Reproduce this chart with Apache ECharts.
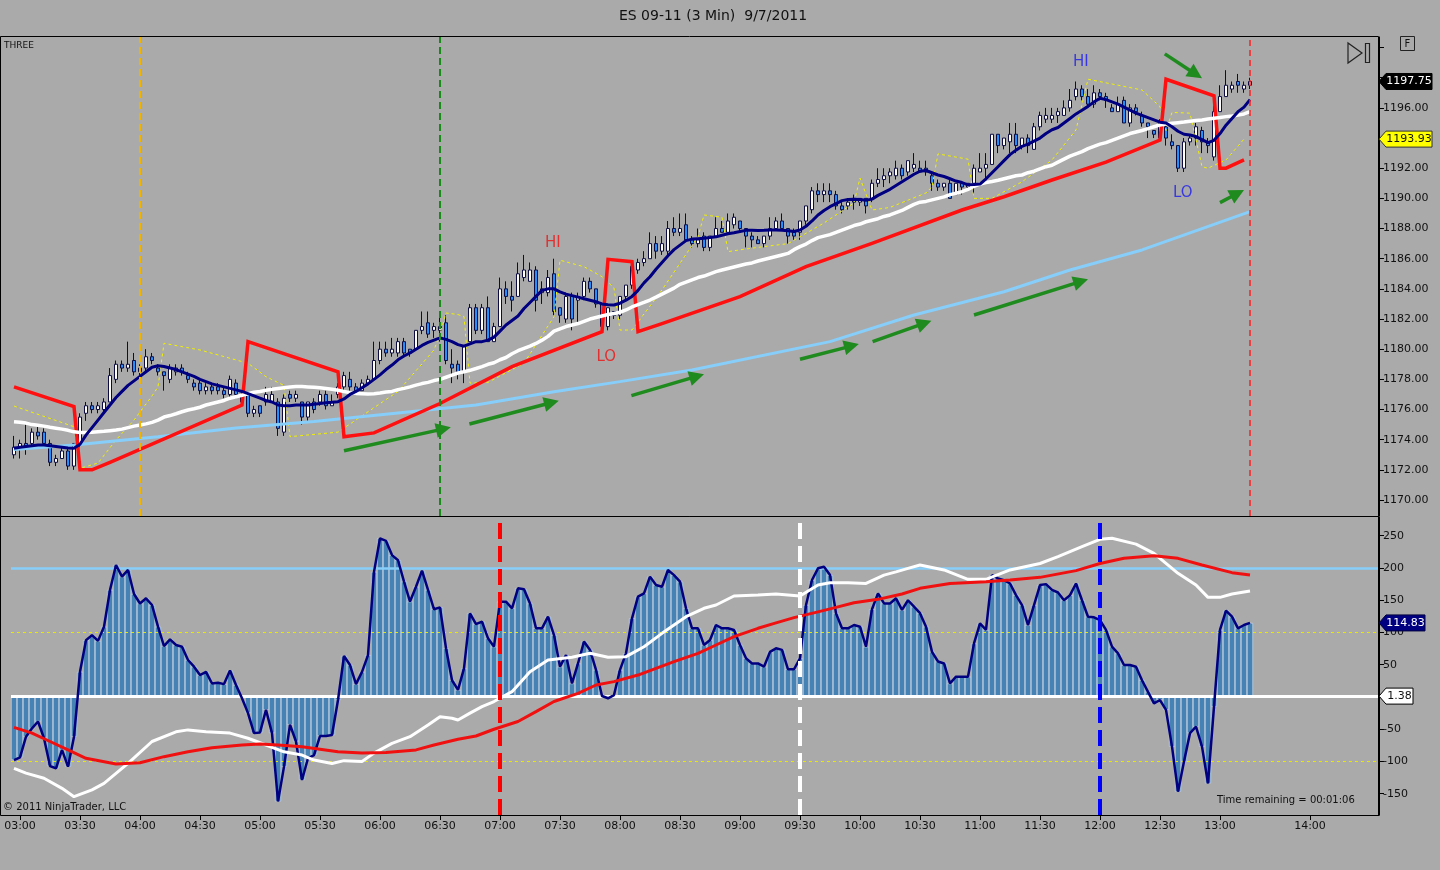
<!DOCTYPE html>
<html><head><meta charset="utf-8">
<script src="https://cdn.jsdelivr.net/npm/echarts@6/dist/echarts.min.js"></script>
<style>html,body{margin:0;padding:0;background:#aaaaaa;}#c{width:1440px;height:870px;}</style>
</head><body><div id="c"></div>
<script>
// ---------- DATA ----------
const firstBarTime = '02:57';   // 3-minute bars
const futureSlots = ['','','','','','','','','','14:00','','','','','','','','','','',''];
const timeLabels = ['03:00','03:30','04:00','04:30','05:00','05:30','06:00','06:30','07:00','07:30','08:00','08:30','09:00','09:30','10:00','10:30','11:00','11:30','12:00','12:30','13:00','14:00'];

// [open, close, low, high]
const candles = [
[1173.0,1173.5,1172.75,1174.25],[1173.5,1173.75,1172.75,1174.0],[1173.75,1173.5,1173.0,1175.0],[1173.75,1174.5,1173.5,1174.75],[1174.5,1174.25,1174.0,1175.0],
[1174.5,1173.75,1173.5,1174.75],[1173.75,1172.5,1172.25,1174.0],[1172.5,1172.75,1172.25,1173.0],[1172.75,1173.25,1172.75,1173.5],[1173.25,1172.25,1172.0,1173.5],
[1172.25,1173.75,1172.0,1173.75],[1173.75,1175.5,1173.5,1175.75],[1175.75,1176.25,1175.25,1176.5],[1176.25,1176.0,1175.75,1176.5],[1176.0,1176.25,1175.75,1176.5],
[1176.0,1176.5,1175.75,1176.75],[1176.5,1178.25,1176.5,1178.75],[1178.0,1179.0,1177.75,1179.25],[1179.0,1178.75,1178.5,1179.25],[1178.75,1179.0,1178.5,1180.5],
[1179.25,1178.5,1178.25,1179.75],[1178.5,1178.75,1178.25,1179.0],[1178.75,1179.5,1178.5,1180.0],[1179.5,1179.25,1179.0,1179.75],[1178.75,1178.5,1178.25,1179.0],
[1178.5,1178.25,1177.25,1178.5],[1178.0,1178.75,1177.75,1179.0],[1178.5,1178.75,1178.25,1179.0],[1178.75,1178.5,1178.25,1179.0],[1178.25,1178.0,1177.75,1178.5],
[1177.75,1177.5,1177.25,1178.0],[1177.75,1177.25,1177.0,1178.0],[1177.25,1177.5,1177.0,1177.75],[1177.5,1177.25,1177.0,1177.75],[1177.5,1177.25,1177.0,1177.75],
[1177.25,1177.0,1176.75,1177.5],[1177.0,1178.0,1176.75,1178.25],[1177.75,1177.0,1176.75,1178.0],[1177.0,1176.5,1176.25,1177.25],[1177.0,1175.75,1175.5,1177.0],
[1175.75,1176.0,1175.5,1176.25],[1176.25,1175.75,1175.5,1176.25],[1176.5,1177.0,1176.25,1177.5],[1176.5,1177.0,1176.5,1177.5],[1176.5,1174.75,1174.25,1176.75],
[1174.5,1176.75,1174.25,1177.0],[1177.0,1176.75,1176.5,1177.25],[1176.75,1177.0,1176.5,1177.25],[1176.5,1175.5,1175.0,1176.5],[1175.5,1176.5,1175.25,1176.5],
[1176.5,1176.0,1175.75,1176.75],[1176.5,1177.0,1176.25,1177.25],[1177.0,1176.25,1176.0,1177.25],[1176.25,1176.5,1176.25,1177.0],[1177.0,1177.5,1176.75,1177.75],
[1177.5,1178.25,1177.25,1178.5],[1178.0,1177.5,1177.25,1178.5],[1177.5,1177.25,1177.0,1177.75],[1177.25,1177.75,1177.25,1178.0],[1177.75,1178.0,1177.75,1178.25],
[1178.0,1179.25,1178.0,1180.5],[1179.25,1180.0,1179.0,1180.5],[1180.0,1179.75,1179.5,1180.5],[1179.75,1180.0,1179.5,1180.75],[1179.75,1180.5,1179.5,1180.75],
[1180.5,1179.75,1179.5,1180.75],[1180.0,1179.75,1179.5,1180.0],[1180.0,1181.25,1180.0,1181.25],[1181.25,1181.5,1181.0,1182.5],[1181.75,1181.0,1180.75,1182.5],
[1181.25,1181.5,1180.75,1181.75],[1181.25,1181.5,1180.5,1182.25],[1181.75,1179.25,1179.0,1182.25],[1179.0,1178.75,1177.75,1180.0],[1179.0,1178.5,1178.0,1179.25],
[1178.5,1180.25,1177.75,1180.25],[1180.5,1182.75,1180.5,1183.0],[1182.75,1181.25,1181.0,1183.0],[1181.25,1182.75,1181.0,1183.0],[1182.75,1180.5,1180.5,1183.5],
[1180.5,1181.5,1180.5,1181.75],[1181.5,1184.0,1181.5,1184.75],[1184.0,1183.5,1183.0,1184.5],[1183.5,1183.25,1182.5,1184.5],[1183.5,1185.0,1183.5,1185.75],
[1184.75,1185.25,1184.5,1186.25],[1184.5,1185.25,1184.5,1185.75],[1185.25,1183.25,1182.5,1185.5],[1183.75,1184.0,1183.0,1184.5],[1183.75,1184.75,1183.5,1185.25],
[1185.0,1182.5,1182.25,1186.0],[1182.75,1182.25,1181.75,1182.75],[1182.0,1183.5,1181.75,1183.75],[1183.5,1182.0,1181.25,1183.75],[1183.25,1183.5,1181.75,1183.75],
[1183.5,1184.5,1183.25,1184.75],[1184.5,1184.0,1183.75,1184.75],[1184.0,1183.0,1182.75,1184.0],[1183.0,1181.5,1181.25,1183.0],[1181.5,1182.75,1181.25,1182.75],
[1182.5,1182.25,1182.0,1182.5],[1182.25,1183.5,1182.0,1183.5],[1183.5,1184.25,1183.25,1184.25],[1184.25,1185.5,1184.0,1185.5],[1185.25,1185.75,1185.0,1186.0],
[1185.75,1186.0,1185.5,1186.5],[1186.0,1187.0,1186.0,1187.75],[1187.0,1186.5,1186.0,1187.5],[1186.5,1187.0,1186.25,1187.5],[1186.5,1188.0,1186.25,1188.5],
[1188.0,1187.75,1187.5,1188.75],[1187.75,1188.0,1187.5,1189.0],[1188.25,1187.25,1187.25,1189.0],[1187.25,1187.0,1186.75,1187.5],[1187.0,1187.25,1186.75,1188.0],
[1187.5,1186.75,1186.5,1187.75],[1186.75,1187.5,1186.5,1187.5],[1187.5,1188.0,1187.5,1188.75],[1188.0,1187.75,1187.75,1188.5],[1187.75,1188.5,1187.75,1189.0],
[1188.25,1188.75,1188.0,1189.0],[1188.5,1188.0,1187.75,1188.5],[1188.0,1187.5,1186.75,1188.0],[1187.5,1187.25,1186.75,1187.75],[1187.25,1187.0,1187.0,1187.5],
[1187.0,1187.5,1186.75,1187.5],[1187.5,1188.0,1187.25,1188.75],[1188.0,1188.5,1188.0,1188.75],[1188.5,1188.0,1188.0,1189.0],[1188.0,1187.5,1187.0,1188.0],
[1187.75,1187.5,1187.25,1188.0],[1187.75,1188.5,1187.25,1188.5],[1188.5,1189.5,1188.25,1189.5],[1189.25,1190.5,1189.0,1190.75],[1190.5,1190.25,1189.75,1191.0],
[1190.25,1190.5,1189.75,1191.0],[1190.5,1190.25,1189.75,1191.0],[1190.25,1189.5,1189.25,1190.5],[1189.5,1189.25,1189.0,1189.75],[1189.5,1189.75,1189.25,1190.0],
[1190.0,1189.75,1189.25,1190.25],[1189.75,1190.0,1189.5,1190.0],[1190.0,1189.5,1189.0,1190.0],[1190.0,1191.0,1189.75,1191.25],[1191.0,1191.25,1190.75,1192.0],
[1191.25,1191.5,1190.75,1192.0],[1191.5,1191.75,1191.0,1192.0],[1191.5,1192.0,1191.25,1192.5],[1192.0,1191.5,1191.25,1192.25],[1191.75,1192.5,1191.5,1192.5],
[1192.0,1192.25,1191.75,1193.0],[1192.0,1191.75,1191.75,1192.5],[1192.0,1191.75,1191.5,1192.5],[1191.5,1191.0,1190.5,1191.75],[1191.0,1190.75,1190.5,1191.25],
[1190.75,1191.0,1190.5,1191.0],[1191.0,1190.0,1190.0,1191.25],[1190.25,1191.0,1190.25,1191.0],[1191.0,1190.75,1190.25,1191.0],[1190.75,1191.0,1190.5,1191.0],
[1191.0,1192.0,1190.25,1192.25],[1191.75,1192.0,1191.75,1193.0],[1192.0,1192.25,1191.0,1193.0],[1192.25,1194.25,1192.25,1194.25],[1194.25,1193.5,1193.0,1194.25],
[1193.5,1194.0,1193.25,1194.0],[1193.75,1194.25,1193.0,1195.0],[1194.25,1193.5,1193.0,1195.0],[1193.5,1194.0,1193.25,1194.0],[1194.0,1193.5,1193.0,1194.25],
[1193.25,1194.75,1193.25,1195.0],[1194.75,1195.5,1194.5,1195.75],[1195.25,1195.5,1195.0,1196.0],[1195.25,1195.5,1195.0,1196.0],[1195.5,1195.75,1195.0,1196.0],
[1195.5,1196.0,1195.5,1196.5],[1196.0,1196.5,1195.75,1197.25],[1196.75,1197.25,1196.5,1197.75],[1197.25,1196.75,1196.5,1197.5],[1196.75,1196.25,1196.0,1197.25],
[1196.25,1197.0,1196.0,1197.5],[1197.0,1196.75,1196.5,1197.25],[1196.75,1196.5,1196.0,1197.0],[1196.0,1195.75,1195.75,1196.25],[1195.75,1196.25,1195.75,1196.75],
[1196.5,1195.0,1195.0,1196.75],[1195.0,1196.0,1194.75,1196.25],[1196.0,1195.75,1195.5,1196.25],[1195.5,1195.0,1194.75,1195.75],[1195.0,1194.75,1194.0,1195.0],
[1194.5,1194.25,1194.0,1194.5],[1194.0,1195.0,1194.0,1195.25],[1194.75,1194.0,1193.5,1195.0],[1193.75,1193.5,1193.25,1194.25],[1193.5,1192.0,1191.75,1193.5],
[1192.0,1193.75,1191.75,1194.0],[1193.75,1194.0,1193.5,1194.25],[1194.0,1194.75,1193.5,1195.0],[1194.5,1193.75,1193.0,1194.75],[1193.75,1193.5,1193.0,1194.0],
[1192.75,1195.75,1192.5,1196.5],[1195.75,1196.75,1195.75,1197.5],[1196.75,1197.5,1196.75,1198.5],[1197.25,1197.5,1197.0,1197.75],[1197.75,1197.5,1197.0,1198.25],
[1197.25,1197.5,1197.0,1197.75],[1197.5,1197.75,1197.25,1198.0]
];

// navy fast average, one value per bar
const navyLine = [
1173.43,1173.5,1173.55,1173.6,1173.65,1173.65,1173.6,1173.55,1173.5,1173.45,1173.43,
1173.7,1174.3,1174.8,1175.3,1175.8,1176.3,1176.8,1177.2,1177.6,1177.9,
1178.2,1178.5,1178.8,1178.9,1178.85,1178.75,1178.65,1178.5,1178.35,1178.2,
1178.0,1177.85,1177.7,1177.6,1177.5,1177.4,1177.3,1177.2,1177.05,1176.9,
1176.75,1176.6,1176.5,1176.3,1176.25,1176.25,1176.3,
1176.3,1176.3,1176.35,1176.4,1176.45,1176.48,1176.52,1176.7,1177.0,1177.2,1177.45,1177.7,
1178.0,1178.3,1178.65,1178.95,1179.3,1179.55,1179.75,1180.0,1180.25,1180.45,1180.6,1180.75,
1180.65,1180.5,1180.3,1180.2,1180.35,1180.5,1180.5,1180.6,1180.8,1181.2,1181.6,1181.9,1182.2,1182.7,1183.1,1183.5,1183.9,1184.0,
1184.0,1183.8,1183.65,1183.55,1183.45,1183.35,1183.25,1183.15,1183.0,1182.95,1182.93,1183.05,
1183.25,1183.5,1183.9,1184.4,1184.8,1185.3,1185.75,1186.2,1186.6,1186.9,1187.2,1187.3,
1187.33,1187.36,1187.4,1187.45,1187.55,1187.65,1187.72,1187.8,1187.88,1187.88,1187.87,1187.88,1187.9,1187.9,1187.88,1187.85,
1187.8,1187.9,1188.15,1188.5,1188.9,1189.2,1189.45,1189.65,1189.85,1189.92,1189.94,1189.93,1189.88,
1189.95,1190.2,1190.4,1190.6,1190.85,1191.1,1191.35,1191.6,1191.8,1191.85,1191.7,1191.55,1191.45,1191.3,1191.15,1191.05,
1190.9,1190.92,1190.95,1191.3,1191.7,1192.1,1192.5,1192.9,1193.2,1193.45,1193.6,1193.8,1194.0,1194.3,
1194.55,1194.7,1195.0,1195.3,1195.6,1195.85,1196.1,1196.4,1196.64,1196.55,1196.4,1196.25,1196.05,1195.85,1195.65,1195.5,1195.35,
1195.2,1195.05,1195.0,1194.75,1194.45,1194.25,1194.2,1194.1,1193.9,1193.7,1193.85,1194.3,1194.85,1195.3,1195.75,1196.05,1196.55
];

// white average, one value per bar
const whiteLine = [
1175.19,1175.15,1175.1,1175.0,1174.95,1174.9,1174.82,1174.76,1174.7,1174.62,1174.52,
1174.47,1174.47,1174.5,1174.53,1174.56,1174.6,1174.64,1174.7,1174.8,1174.9,
1174.97,1175.05,1175.15,1175.3,1175.5,1175.6,1175.72,1175.85,1175.97,1176.05,
1176.15,1176.3,1176.4,1176.5,1176.6,1176.75,1176.85,1176.95,1177.05,1177.15,
1177.2,1177.28,1177.35,1177.4,1177.45,1177.5,1177.52,
1177.52,1177.5,1177.48,1177.45,1177.4,1177.35,1177.28,1177.2,1177.12,1177.07,1177.05,1177.03,
1177.05,1177.1,1177.16,1177.2,1177.32,1177.4,1177.5,1177.62,1177.72,1177.8,1177.92,1178.0,
1178.14,1178.28,1178.42,1178.5,1178.6,1178.72,1178.85,1179.0,1179.1,1179.3,1179.45,1179.7,1179.9,1180.05,1180.2,1180.38,1180.6,1180.85,
1181.2,1181.35,1181.5,1181.6,1181.7,1181.85,1182.0,1182.1,1182.2,1182.3,1182.37,1182.45,
1182.6,1182.8,1182.95,1183.1,1183.26,1183.45,1183.65,1183.85,1184.05,1184.3,1184.45,1184.6,
1184.75,1184.85,1185.0,1185.14,1185.25,1185.35,1185.45,1185.55,1185.65,1185.72,1185.85,1185.95,1186.05,1186.15,1186.25,1186.35,
1186.6,1186.8,1186.97,1187.2,1187.4,1187.5,1187.6,1187.75,1187.9,1188.05,1188.2,1188.3,1188.45,
1188.55,1188.65,1188.8,1188.9,1189.05,1189.2,1189.4,1189.6,1189.75,1189.8,1189.9,1190.0,1190.1,1190.25,1190.34,1190.45,
1190.6,1190.8,1190.95,1191.05,1191.12,1191.2,1191.3,1191.4,1191.5,1191.55,1191.7,1191.8,1191.95,1192.1,
1192.2,1192.4,1192.6,1192.8,1192.95,1193.1,1193.3,1193.45,1193.6,1193.7,1193.85,1194.0,1194.15,1194.3,1194.4,1194.5,1194.62,
1194.75,1194.87,1194.93,1194.98,1195.02,1195.06,1195.12,1195.16,1195.2,1195.26,1195.31,1195.36,1195.42,1195.46,1195.52,1195.6,1195.75
];

// [bar, value] corner points of the stepped red line
const redLine = [[0,1177.5],[10,1176.2],[11,1172.0],[13,1172.0],[16,1172.5],[38,1176.3],[39,1180.5],[54,1178.5],[55,1174.2],[60,1174.45],[71,1176.4],[83,1178.84],[98,1181.16],[99,1185.96],[103,1185.8],[104,1181.16],[108,1181.7],[121,1183.48],[132,1185.47],[143,1187.02],[158,1189.23],[165,1190.11],[173,1191.22],[182,1192.4],[191,1193.87],[192,1197.9],[200,1196.8],[201,1192.0],[202,1192.0],[205,1192.55]];

// [bar, value] light blue slow average
const blueLine = [[0,1173.35],[10,1173.65],[24,1174.2],[37,1174.77],[50,1175.2],[64,1175.77],[77,1176.3],[90,1177.18],[101,1177.85],[113,1178.62],[136,1180.5],[150,1182.27],[165,1183.81],[176,1185.25],[188,1186.58],[206,1189.12]];

// [bar, value] yellow dotted envelope
const yellowLine = [[0,1176.23],[10,1174.86],[11,1172.1],[14,1172.45],[17,1173.98],[20,1175.3],[23,1176.9],[24,1177.5],[25,1180.39],[31,1179.95],[39,1179.07],[42,1178.18],[45,1177.6],[46,1174.2],[54,1174.5],[64,1177.2],[70,1179.95],[71,1181.0],[72,1182.4],[74,1182.3],[75,1182.16],[76,1177.75],[79,1177.8],[85,1179.07],[90,1182.16],[91,1185.9],[95,1185.47],[98,1184.81],[100,1184.06],[101,1181.27],[103,1181.27],[108,1183.93],[111,1185.7],[114,1187.46],[115,1188.9],[118,1188.75],[119,1186.47],[123,1186.7],[129,1187.0],[135,1188.37],[140,1189.7],[141,1191.35],[143,1189.23],[146,1189.4],[152,1190.36],[153,1190.76],[154,1192.95],[159,1192.6],[160,1190.0],[163,1190.0],[168,1191.1],[173,1192.55],[177,1194.54],[179,1197.9],[188,1197.19],[191,1196.08],[192,1194.5],[193,1195.7],[196,1195.65],[198,1192.1],[199,1192.0],[202,1192.55],[205,1193.93]];

// oscillator (histogram + navy line), one value per bar
const cci = [
-97.7,-93.5,-61.5,-48.6,-38,-64,-107,-110.6,-82,-108,
-61.5,39,88,96,87,109,166,204.6,186.6,197,
159.7,145,153,142.6,109,79,89.4,80.6,78,57.4,
47,34,39,21,22,20,41,18.6,-2,-25,
-56,-55,-20,-56,-162,-108,-43,-69,-128.7,-95,
-90,-60.5,-60.5,-59,-4.7,63.6,49.6,20,39,65,
194,246,242,220,212,179,148,171,196,166,
136,139,75.5,26,11,44.4,129.7,113,116.8,91,
78,147.8,147.8,137.5,168.5,167,145,106.5,106.5,124.5,
96,47,65,21,52,86,73,42,1.5,-2,
3,42,67.7,122,155.5,160.7,186.6,173.6,171,197,
189,178.8,137.5,106.5,106.5,80.6,88.4,111.6,106.5,106.5,
104,80.6,60,52,52,47,70,75.5,73,43,
43,60,142.6,181.4,199.5,202,189,129.7,106.5,106.5,
111.6,109,78,136,160.7,145,145,153,135,150,
140,130,109,70,55,52,21,31.5,31.5,31.5,
83,114,104,189,184,181,176,158,142.6,111.6,
142.6,173.6,175,166,162,150,158,176,150,124.5,
123.5,119,104,78,67.7,49.6,49.6,47,26,8,
-10,-4.7,-20,-77,-146.8,-100,-56,-46,-77,-134,
-15,104,134,124.5,106.5,111.6,114.83
];
// [bar, value]
const cciWhite = [[0,-110.6],[2,-118],[5,-126],[8,-141.6],[10,-154.5],[13,-144],[15,-134],[19,-103],[23,-69],[27,-54],[29,-51],[32,-54],[36,-56],[39,-64],[42,-74.4],[45,-85],[48,-90],[50,-97.7],[53,-103],[55,-98.7],[58,-100],[60,-87],[63,-71.8],[66,-61.5],[69,-43.4],[71,-30.5],[73,-33],[74,-35.7],[76,-25],[78,-15],[80,-7],[83,8.3],[86,39],[89,57.4],[93,61.5],[96,67.7],[99,61.5],[102,62.5],[105,78],[108,98.7],[112,124.5],[115,137.5],[117,142.6],[120,156.6],[124,158],[127,159.7],[131,156.6],[134,173.6],[136,177],[139,177],[142,176],[145,189],[147,194],[149,199.5],[151,204.6],[155,197],[159,182.4],[162,182.4],[166,197],[171,207],[174,217.6],[178,233],[181,244.4],[183,246],[187,237],[190,222.7],[194,191.7],[197,173.6],[199,154.5],[201,154.5],[203,159.7],[206,164.3]];
const cciRed = [[0,-47],[3,-56],[6,-69],[9,-82],[12,-95],[17,-104],[21,-102],[25,-92.5],[29,-85],[33,-78.6],[38,-74.4],[41,-72.9],[44,-74.4],[48,-77],[51,-81],[54,-85],[58,-87],[62,-86],[67,-82],[70,-74.4],[74,-65.6],[77,-60.5],[80,-50],[84,-38],[87,-22.7],[90,-7],[94,5.7],[97,18.6],[100,23.8],[104,34],[107,44.4],[110,54.8],[114,67.7],[117,80.6],[120,93.5],[124,106.5],[127,115],[130,123],[134,132],[137,139],[140,146],[144,151.4],[148,159.7],[151,168.5],[156,176],[162,178.8],[166,181.4],[171,185.5],[177,195.9],[181,207],[185,215],[190,219],[194,215],[198,204.6],[203,192.8],[206,189]];
const zeroLineValue = 1.38;

// annotations (bar position, price)
const arrows = [[55.0,1173.27,72.8,1174.82],[75.9,1175.04,90.8,1176.58],[102.9,1176.92,115.0,1178.34],[131.0,1179.33,140.8,1180.34],[143.1,1180.5,152.9,1181.89],[160.0,1182.27,179.0,1184.64],[191.8,1199.58,198.0,1197.96],[201.0,1189.72,205.0,1190.56]];
const notes = [[89.8,1187.04,'HI','#ee1111'],[98.7,1179.48,'LO','#ee1111'],[177.8,1199.05,'HI','#1a1aee'],[194.8,1190.36,'LO','#1a1aee']];
const priceTicks = [1170,1172,1174,1176,1178,1180,1182,1184,1186,1188,1190,1192,1194,1196,1198,1200];
const priceLabels = [1170,1172,1174,1176,1178,1180,1182,1184,1186,1188,1190,1192,1196];
const cciTicks = [-150,-100,-50,0,50,100,150,200,250];
const cciLabels = [-150,-100,-50,50,100,150,200,250];

// ---------- BUILD ----------
function addMin(t, m){const [h,mi]=t.split(':').map(Number);const x=h*60+mi+m;return String(Math.floor(x/60)).padStart(2,'0')+':'+String(x%60).padStart(2,'0');}
const barTimes = candles.map((c,i)=>addMin(firstBarTime, 3*i));
const xCats = barTimes.concat(futureSlots);
const N = xCats.length;
const FONT = 'DejaVu Sans';
const showTime = (i, v) => timeLabels.indexOf(v) >= 0;
const noSym = ['none','none'];

const option = {
  backgroundColor: '#aaaaaa',
  animation: false,
  textStyle: {fontFamily: FONT},
  grid: [
    {left: 11, top: 37, width: 1368, height: 479},
    {left: 11, top: 517, width: 1368, height: 298}
  ],
  xAxis: [
    {type:'category', gridIndex:0, data:xCats, show:false, axisLine:{onZero:false}},
    {type:'category', gridIndex:1, data:xCats,
      axisLine:{show:true, onZero:false, lineStyle:{color:'#000', width:1}},
      axisTick:{show:true, interval:showTime, alignWithLabel:true, length:5, lineStyle:{color:'#000'}},
      axisLabel:{interval:showTime, color:'#111', fontSize:11, fontFamily:FONT, margin:6},
      splitLine:{show:false}},
    {type:'value', gridIndex:0, min:-0.5, max:N-0.5, show:false, axisLine:{onZero:false}}
  ],
  yAxis: [
    {type:'value', gridIndex:0, position:'right', min:1168.94, max:1200.70, scale:true,
      axisLine:{show:true, onZero:false, lineStyle:{color:'#000'}},
      axisTick:{show:true, length:5, customValues:priceTicks, lineStyle:{color:'#000'}},
      axisLabel:{customValues:priceLabels, formatter:v=>Number(v).toFixed(2), color:'#111', fontSize:11, fontFamily:FONT, margin:4},
      splitLine:{show:false}},
    {type:'value', gridIndex:1, position:'right', min:-182.95, max:279.07,
      axisLine:{show:true, onZero:false, lineStyle:{color:'#000'}},
      axisTick:{show:true, length:5, customValues:cciTicks, lineStyle:{color:'#000'}},
      axisLabel:{customValues:cciLabels, color:'#111', fontSize:11, fontFamily:FONT, margin:4},
      splitLine:{show:false}}
  ],
  series: [
    {type:'candlestick', xAxisIndex:0, yAxisIndex:0, data:candles, barWidth:4, z:2,
      itemStyle:{color:'#ffffff', color0:'#1e90ff', borderColor:'#0c0c40', borderColor0:'#0c0c40', borderWidth:1}},
    {type:'line', xAxisIndex:0, yAxisIndex:0, data:yellowLine, symbol:'none', z:3,
      lineStyle:{color:'#f2f200', width:1, type:[3,3]}},
    {type:'line', xAxisIndex:0, yAxisIndex:0, data:blueLine, symbol:'none', z:3,
      lineStyle:{color:'#87cefa', width:3}},
    {type:'line', xAxisIndex:0, yAxisIndex:0, data:redLine, symbol:'none', z:4,
      lineStyle:{color:'#ff1010', width:3.5, join:'miter'}},
    {type:'line', xAxisIndex:0, yAxisIndex:0, data:whiteLine, symbol:'none', z:4,
      lineStyle:{color:'#ffffff', width:3.5}},
    {type:'line', xAxisIndex:0, yAxisIndex:0, data:navyLine, symbol:'none', z:5,
      lineStyle:{color:'#000080', width:3},
      markLine:{silent:true, symbol:noSym, label:{show:false}, z:6, animation:false,
        data:[
          {xAxis:'04:00', lineStyle:{color:'#f0b400', width:2, type:[7,4]}},
          {xAxis:'06:30', lineStyle:{color:'#178a17', width:2, type:[7,4]}},
          {xAxis:barTimes[barTimes.length-1], lineStyle:{color:'#ff2020', width:1.5, type:[6,4]}}
        ]}},
    {type:'custom', xAxisIndex:2, yAxisIndex:0, data:arrows, z:8,
      encode:{x:[0,2], y:[1,3]},
      renderItem:function(params, api){
        const a = api.coord([api.value(0), api.value(1)]);
        const b = api.coord([api.value(2), api.value(3)]);
        const dx=b[0]-a[0], dy=b[1]-a[1], L=Math.hypot(dx,dy), ux=dx/L, uy=dy/L;
        const hl=15, hw=7.5;
        const bx=b[0]-ux*hl, by=b[1]-uy*hl;
        return {type:'group', children:[
          {type:'line', shape:{x1:a[0],y1:a[1],x2:bx+ux*2,y2:by+uy*2}, style:{stroke:'#1f8b1f', lineWidth:3.5}},
          {type:'polygon', shape:{points:[[b[0],b[1]],[bx-uy*hw,by+ux*hw],[bx+uy*hw,by-ux*hw]]}, style:{fill:'#1f8b1f'}}
        ]};
      }},
    {type:'scatter', xAxisIndex:2, yAxisIndex:0, symbolSize:0, z:8,
      data:notes.map(n=>({value:[n[0],n[1]], label:{show:true, position:'inside', formatter:n[2], color:n[3], fontSize:15, fontFamily:FONT}}))},
    // lower panel
    {type:'bar', xAxisIndex:1, yAxisIndex:1, data:cci, barWidth:6, z:2,
      itemStyle:{color:'#4682b4', borderColor:'rgba(225,235,245,0.85)', borderWidth:0.6}},
    {type:'line', xAxisIndex:1, yAxisIndex:1, data:[], symbol:'none', z:3,
      markLine:{silent:true, symbol:noSym, label:{show:false}, animation:false,
        data:[
          {yAxis:200, lineStyle:{color:'#87cefa', width:2.5, type:'solid'}},
          {yAxis:100, lineStyle:{color:'#e8e800', width:1, type:[3,3]}},
          {yAxis:-100, lineStyle:{color:'#e8e800', width:1, type:[3,3]}},
          {yAxis:zeroLineValue, lineStyle:{color:'#ffffff', width:3, type:'solid'}}
        ]}},
    {type:'line', xAxisIndex:1, yAxisIndex:1, data:cci, symbol:'none', z:6,
      lineStyle:{color:'#000080', width:2.5}},
    {type:'line', xAxisIndex:1, yAxisIndex:1, data:cciWhite, symbol:'none', z:7,
      lineStyle:{color:'#ffffff', width:3}},
    {type:'line', xAxisIndex:1, yAxisIndex:1, data:cciRed, symbol:'none', z:7,
      lineStyle:{color:'#f01010', width:3},
      markLine:{silent:true, symbol:noSym, label:{show:false}, z:9, animation:false,
        data:[
          {xAxis:'07:00', lineStyle:{color:'#ff0000', width:4, type:[16,7]}},
          {xAxis:'09:30', lineStyle:{color:'#ffffff', width:4, type:[16,7]}},
          {xAxis:'12:00', lineStyle:{color:'#0000ff', width:4, type:[16,7]}}
        ]}}
  ]
};

const chart = echarts.init(document.getElementById('c'));
chart.setOption(option);

// ---------- tags & chrome ----------
const lastClose = candles[candles.length-1][1];
const lastYellow = yellowLine[yellowLine.length-1][1];
const lastCci = cci[cci.length-1];
function tag(axisIndex, value, text, fill, color, stroke, w){
  const y = chart.convertToPixel({yAxisIndex:axisIndex}, value);
  const x0 = 1379;
  return [
    {type:'polygon', z:100, shape:{points:[[x0,y],[x0+7,y-8],[x0+w,y-8],[x0+w,y+8],[x0+7,y+8]]}, style:{fill:fill, stroke:stroke, lineWidth:1}},
    {type:'text', z:101, x:x0+7+(w-7)/2, y:y, style:{text:text, fill:color, font:'11px '+FONT, align:'center', verticalAlign:'middle', textAlign:'center', textVerticalAlign:'middle'}}
  ];
}
const graphics = [
  {type:'rect', z:90, shape:{x:0.5, y:36.5, width:1378, height:480}, style:{fill:'none', stroke:'#000', lineWidth:1}},
  {type:'rect', z:90, shape:{x:0.5, y:516.5, width:1378, height:299}, style:{fill:'none', stroke:'#000', lineWidth:1}},
  {type:'text', z:100, x:713, y:16, style:{text:'ES 09-11 (3 Min)  9/7/2011', fill:'#111', font:'14px '+FONT, align:'center', verticalAlign:'middle', textAlign:'center', textVerticalAlign:'middle'}},
  {type:'text', z:100, x:4, y:46, style:{text:'THREE', fill:'#111', font:'9px '+FONT, verticalAlign:'middle', textVerticalAlign:'middle'}},
  {type:'text', z:100, x:3, y:807, style:{text:'© 2011 NinjaTrader, LLC', fill:'#111', font:'10px '+FONT, verticalAlign:'middle', textVerticalAlign:'middle'}},
  {type:'text', z:100, x:1217, y:800, style:{text:'Time remaining = 00:01:06', fill:'#111', font:'10px '+FONT, verticalAlign:'middle', textVerticalAlign:'middle'}},
  {type:'polygon', z:100, shape:{points:[[1348,43],[1348,63],[1362,53]]}, style:{fill:'none', stroke:'#222', lineWidth:1.2}},
  {type:'rect', z:100, shape:{x:1365.5, y:43.5, width:4, height:19}, style:{fill:'none', stroke:'#222', lineWidth:1.2}},
  {type:'rect', z:100, shape:{x:1400.5, y:36.5, width:14, height:14}, style:{fill:'none', stroke:'#222', lineWidth:1}},
  {type:'text', z:100, x:1407.5, y:44, style:{text:'F', fill:'#111', font:'10px '+FONT, align:'center', verticalAlign:'middle', textAlign:'center', textVerticalAlign:'middle'}}
]
.concat(tag(0, lastClose, lastClose.toFixed(2), '#000000', '#ffffff', '#000000', 53))
.concat(tag(0, lastYellow, lastYellow.toFixed(2), '#ffff00', '#111111', '#333333', 53))
.concat(tag(1, lastCci, lastCci.toFixed(2), '#000080', '#ffffff', '#000040', 46))
.concat(tag(1, zeroLineValue, zeroLineValue.toFixed(2), '#ffffff', '#111111', '#000000', 34));
chart.setOption({graphic: graphics});
</script>
</body></html>
